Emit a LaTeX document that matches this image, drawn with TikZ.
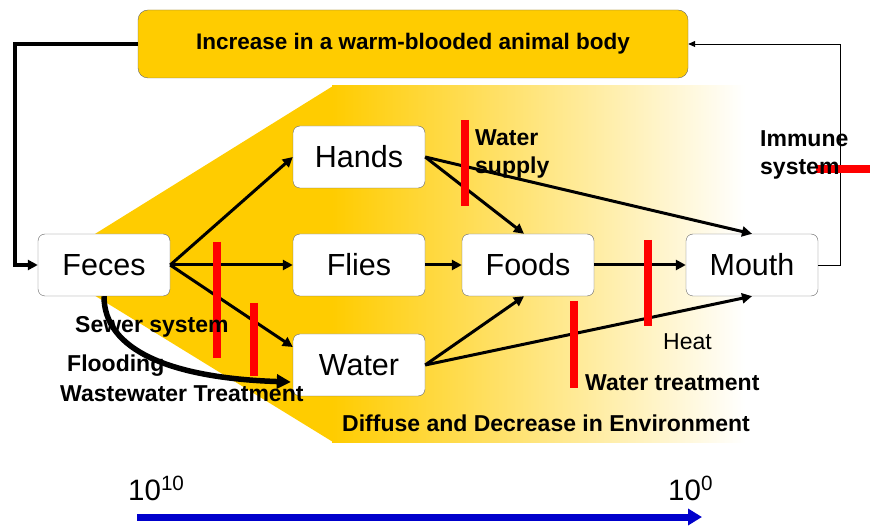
\documentclass[tikz,border=0pt]{standalone}
\usepackage{fontspec}
\setmainfont{Liberation Sans}
\usepackage{tikz}
\usetikzlibrary{arrows.meta,calc}
\definecolor{goldyellow}{RGB}{255,204,0}
\definecolor{barred}{RGB}{255,0,0}
\definecolor{scaleblue}{RGB}{0,0,204}

\tikzset{
  route/.style={draw=gray!80!black, fill=white, rounded corners=7pt, minimum width=132pt, minimum height=62pt, inner sep=0pt, font=\fontsize{30.5}{34}\selectfont},
  flow/.style={-{Triangle[length=10pt,width=10pt]}, line width=3pt},
  barrier/.style={barred, line width=8pt},
  lbl/.style={anchor=base west, inner sep=0pt, font=\fontsize{23}{28}\selectfont\bfseries, align=left}
}

\begin{document}
\begin{tikzpicture}[x=1pt, y=-1pt]
            \useasboundingbox (0,0) rectangle (870,526);

            % Environment background
            \fill[goldyellow] (333,86) -- (45,265) -- (333,442) -- cycle;
            \shade[left color=goldyellow, right color=white] (332,86) rectangle (745,442);

            % Main components
            \node[route, fill=goldyellow, minimum width=550pt, minimum height=68pt, rounded corners=10pt, font=\fontsize{22.5}{26}\selectfont\bfseries] (body) at (413,44) {Increase in a warm-blooded animal body};

            \node[route] (feces) at (104,265) {Feces};
            \node[route] (hands) at (359,157) {Hands};
            \node[route] (flies) at (359,265) {Flies};
            \node[route] (water) at (359,365) {Water};
            \node[route] (foods) at (528,265) {Foods};
            \node[route] (mouth) at (752,265) {Mouth};

            % Loop back to the body
            \coordinate (lcorner) at (15,44);
            \coordinate (rcorner) at (840,265);
            \draw[flow, line width=3.2pt] (body.west) -- (lcorner) |- (feces.west);
            \draw[-{Triangle[length=7pt,width=6pt]}, line width=0.9pt] (mouth.east) -- (rcorner) |- (body.east);

            % Arrows showing transmission
            \draw[flow] (feces.east) -- (hands.west);
            \draw[flow] (feces.east) -- (flies.west);
            \draw[flow] (feces.east) -- ($(water.west)+(0,-18)$);
            \draw[flow] (flies.east) -- (foods.west);
            \draw[flow] (foods.east) -- (mouth.west);
            \draw[flow] (hands.east) -- ($(foods.north)+(-4,0)$);
            \draw[flow] (hands.east) -- (mouth.north);
            \draw[flow] (water.east) -- ($(foods.south)+(-4,0)$);
            \draw[flow] (water.east) -- (mouth.south);
            \draw[-{Triangle[length=14pt,width=14pt]}, line width=5.5pt] (feces.south) .. controls (104,350) and (170,378) .. ($(water.west)+(-2,17)$);

            % Barriers
            \draw[barrier] (465,120) -- (465,206);
            \draw[barrier] (217,242) -- (217,358);
            \draw[barrier] (254,303) -- (254,376);
            \draw[barrier] (648,240) -- (648,326);
            \draw[barrier] (574,301) -- (574,388);
            \draw[barrier] (816,169) -- (870,169);

            % Labels
            \node[lbl] (supply) at (475,174) {Water\\supply};
            \node[lbl] (immune) at (760,175) {Immune\\system};
            \node[lbl] (sewer) at (75,333) {Sewer system};
            \node[lbl] (flood) at (67,372) {Flooding};
            \node[lbl] (waste) at (60,402) {Wastewater Treatment};
            \node[lbl, font=\fontsize{23}{28}\selectfont] (heat) at (663,350) {Heat};
            \node[lbl] (wtreat) at (585,391) {Water treatment};
            \node[lbl] (diffuse) at (342,431) {Diffuse and Decrease in Environment};

            % Concentration scale
            \node[anchor=base west, inner sep=0pt, font=\fontsize{29.5}{34}\selectfont] (high) at (128,500) {10\textsuperscript{10}};
            \node[anchor=base west, inner sep=0pt, font=\fontsize{29.5}{34}\selectfont] (low) at (668,500) {10\textsuperscript{0}};
            \coordinate (sstart) at (137,517);
            \coordinate (send) at (702,517);
            \draw[scaleblue, line width=7pt, -{Triangle[length=14pt,width=16pt]}] (sstart) -- (send);
        \end{tikzpicture}
\end{document}
